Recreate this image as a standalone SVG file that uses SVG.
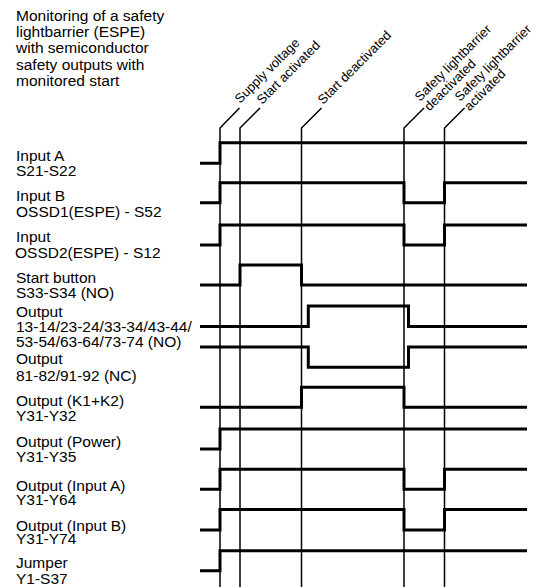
<svg xmlns="http://www.w3.org/2000/svg" width="538" height="587" viewBox="0 0 538 587">
<style>
text{font-family:"Liberation Sans",Arial,sans-serif;fill:#000}
.t{font-size:15.5px}
.r{font-size:13px}
.w{fill:none;stroke:#000;stroke-width:3;stroke-linejoin:miter;stroke-linecap:butt}
.e{fill:none;stroke:#000;stroke-width:1.5}
</style>
<rect width="538" height="587" fill="#fff"/>
<g id="title">
<text class="t" x="16" y="20.5">Monitoring of a safety</text>
<text class="t" x="16" y="37">lightbarrier (ESPE)</text>
<text class="t" x="16" y="53.3">with semiconductor</text>
<text class="t" x="16" y="69.7">safety outputs with</text>
<text class="t" x="16" y="86">monitored start</text>
</g>
<g id="connectors">
<path class="e" d="M220,587 V128 L239.5,108"/>
<path class="e" d="M240,587 V128 L260,108"/>
<path class="e" d="M301.5,587 V128 L321.5,108"/>
<path class="e" d="M404,587 V128 L424,108"/>
<path class="e" d="M444.5,587 V128 L464.5,108"/>
</g>
<g id="event-supply"><text class="r" transform="translate(240,104) rotate(-45)">Supply voltage</text></g>
<g id="event-start"><text class="r" transform="translate(262,105) rotate(-45)">Start activated</text></g>
<g id="event-start-off"><text class="r" transform="translate(323,105) rotate(-45)">Start deactivated</text></g>
<g id="event-lb-off"><text class="r" transform="translate(420,102) rotate(-45)"><tspan x="0" y="0">Safety lightbarrier</tspan><tspan x="0" y="13.5">deactivated</tspan></text></g>
<g id="event-lb-on"><text class="r" transform="translate(460,102) rotate(-45)"><tspan x="0" y="0">Safety lightbarrier</tspan><tspan x="0" y="13.5">activated</tspan></text></g>
<g id="input-a"><text class="t" x="16" y="160.5">Input A</text><text class="t" x="16" y="176">S21-S22</text><path class="w" d="M200,163.3 H220 V142.7 H527"/></g>
<g id="input-b"><text class="t" x="16" y="201">Input B</text><text class="t" x="16" y="216.5">OSSD1(ESPE) - S52</text><path class="w" d="M200,202.7 H220 V182.7 H404 V202.7 H444.5 V182.7 H527"/></g>
<g id="input-ossd2"><text class="t" x="16" y="242">Input</text><text class="t" x="15" y="257.5">OSSD2(ESPE) - S12</text><path class="w" d="M200,245 H220 V225 H404 V245 H444.5 V225 H527"/></g>
<g id="start-button"><text class="t" x="16" y="282.5">Start button</text><text class="t" x="16" y="298">S33-S34 (NO)</text><path class="w" d="M200,285 H240 V265 H301.5 V285 H527"/></g>
<g id="output-no"><text class="t" x="16" y="316.5">Output</text><text class="t" x="16" y="331.5">13-14/23-24/33-34/43-44/</text><text class="t" x="16" y="347">53-54/63-64/73-74 (NO)</text><path class="w" d="M200,326.5 H308.3 V306 H408.5 V326.5 H527"/></g>
<g id="output-nc"><text class="t" x="16" y="364">Output</text><text class="t" x="16" y="380.5">81-82/91-92 (NC)</text><path class="w" d="M200,347 H308.3 V367.3 H408.5 V347 H527"/></g>
<g id="output-k1k2"><text class="t" x="16" y="406">Output (K1+K2)</text><text class="t" x="16" y="421">Y31-Y32</text><path class="w" d="M200,407.3 H301.5 V387.3 H404 V407.3 H527"/></g>
<g id="output-power"><text class="t" x="16" y="446.5">Output (Power)</text><text class="t" x="16" y="461.5">Y31-Y35</text><path class="w" d="M200,449 H220 V429 H527"/></g>
<g id="output-input-a"><text class="t" x="16" y="491">Output (Input A)</text><text class="t" x="16" y="504.5">Y31-Y64</text><path class="w" d="M200,489.3 H220 V469.3 H404 V489.3 H444.5 V469.3 H527"/></g>
<g id="output-input-b"><text class="t" x="16" y="530.5">Output (Input B)</text><text class="t" x="16" y="543.5">Y31-Y74</text><path class="w" d="M200,530 H220 V509.5 H404 V530 H444.5 V509.5 H527"/></g>
<g id="jumper"><text class="t" x="16" y="568">Jumper</text><text class="t" x="16" y="583.5">Y1-S37</text><path class="w" d="M200,570.7 H220 V550.7 H527"/></g>
</svg>
